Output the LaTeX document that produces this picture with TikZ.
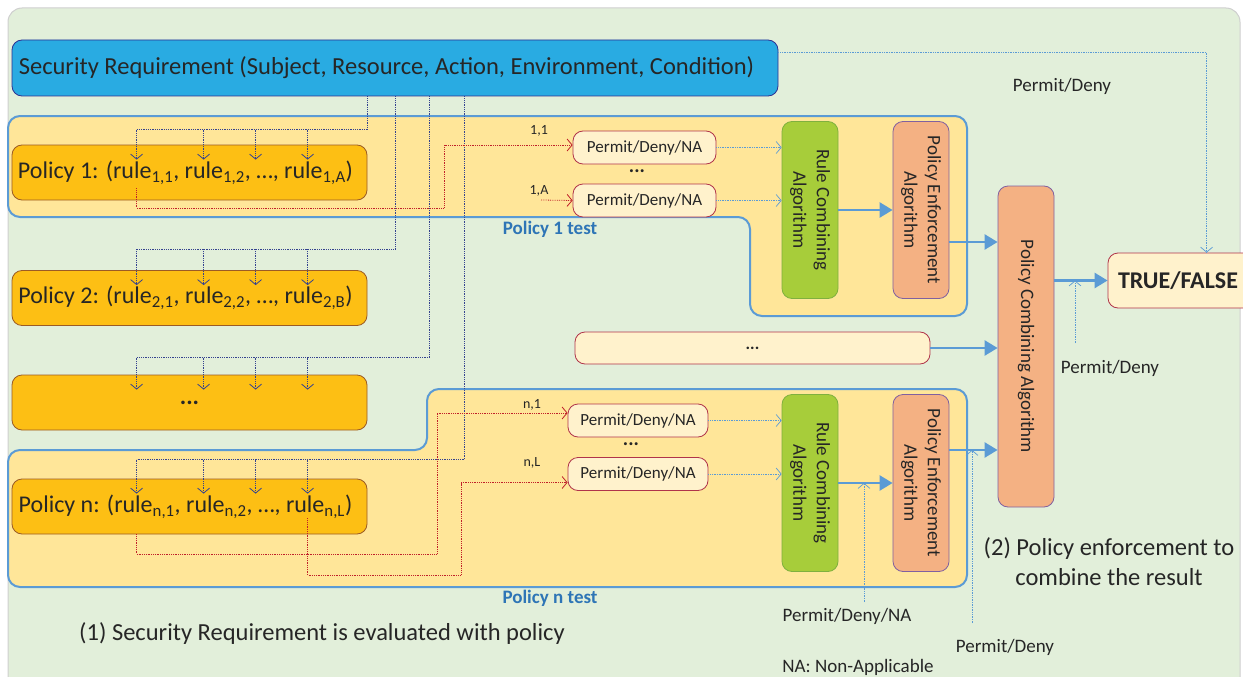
\documentclass[tikz,border=0pt]{standalone}
\usepackage{fontspec}
\setmainfont{Carlito}
\usetikzlibrary{calc}
\usetikzlibrary{arrows.meta}

\definecolor{bggreen}{HTML}{E2EFDA}
\definecolor{bgedge}{HTML}{CFCFCF}
\definecolor{reqblue}{HTML}{29ABE2}
\definecolor{reqedge}{HTML}{2E3192}
\definecolor{testfill}{HTML}{FFE699}
\definecolor{testedge}{HTML}{5B9BD5}
\definecolor{testtext}{HTML}{2E75B6}
\definecolor{polfill}{HTML}{FDBF14}
\definecolor{poledge}{HTML}{9B5B25}
\definecolor{resfill}{HTML}{FFF2CC}
\definecolor{resedge}{HTML}{B0344A}
\definecolor{rcafill}{HTML}{A7CD3A}
\definecolor{rcaedge}{HTML}{7FB03F}
\definecolor{peafill}{HTML}{F4B183}
\definecolor{peaedge}{HTML}{8060A0}
\definecolor{flowblue}{HTML}{5B9BD5}
\definecolor{lineblue}{HTML}{34428F}
\definecolor{linered}{HTML}{C0202A}
\definecolor{txtgrey}{HTML}{262626}

\begin{document}
\begin{tikzpicture} [
    x = 1pt, y = -1pt,
    every node/.style = {text = txtgrey},
    box/.style = {draw, rounded corners = 10pt, line width = 0.8pt, inner sep = 0pt},
    reqbox/.style = {box, fill = reqblue, draw = reqedge, minimum width = 766pt, minimum height = 56pt, font = \fontsize{24.5}{28}\selectfont},
    polbox/.style = {box, fill = polfill, draw = poledge, minimum width = 355pt, minimum height = 55pt, font = \fontsize{24}{28}\selectfont},
    resbox/.style = {box, fill = resfill, draw = resedge, minimum width = 143pt, minimum height = 33pt, font = \fontsize{17}{20}\selectfont},
    rcabox/.style = {box, fill = rcafill, draw = rcaedge, rotate = -90, minimum width = 177pt, minimum height = 56pt, align = center, font = \fontsize{19}{23.5}\selectfont},
    peabox/.style = {rcabox, fill = peafill, draw = peaedge},
    testregion/.style = {fill = testfill, draw = testedge, line width = 2pt, rounded corners = 12pt},
    testlabel/.style = {text = testtext, font = \fontsize{19}{22}\selectfont\bfseries},
    lbl/.style = {font = \fontsize{19}{22}\selectfont},
    idx/.style = {font = \fontsize{14}{16}\selectfont},
    steptext/.style = {font = \fontsize{24.5}{30}\selectfont},
    dots/.style = {font = \fontsize{20}{20}\selectfont\bfseries},
    bigarrow/.style = {draw = flowblue, line width = 2.5pt, -{Triangle[length = 13pt, width = 15pt]}},
    resarrow/.style = {draw = flowblue, densely dotted, line width = 0.7pt, -{Straight Barb[length = 5pt, width = 12pt]}},
    reqline/.style = {draw = lineblue, densely dotted, line width = 0.8pt},
    reqarrow/.style = {reqline, -{Straight Barb[length = 5pt, width = 12pt]}},
    rulearrow/.style = {draw = linered, densely dotted, line width = 0.8pt, -{Straight Barb[length = 5pt, width = 12pt]}}
]

% page and background
\path [use as bounding box, fill = white] (0,0) rectangle (1243,677);
\draw [fill = bggreen, draw = bgedge, line width = 1pt, rounded corners = 14pt] (8,8) rectangle (1240,700);

% test regions
\draw [testregion] (8,116) -- (967,116) -- (967,316) -- (750,316) -- (750,217) -- (8,217) -- cycle;
\draw [testregion] (427,389) -- (967,389) -- (967,587) -- (8,587) -- (8,450) -- (427,450) -- cycle;

% security requirement and policies
\node (secreq) at (395,68) [reqbox] {Security Requirement (Subject, Resource, Action, Environment, Condition)\hspace{17pt}\mbox{}};
\node (pol1) at (189.5,172.5) [polbox] {Policy 1: (rule\textsubscript{1,1}, rule\textsubscript{1,2}, …, rule\textsubscript{1,A})\hspace{8pt}\mbox{}};
\node (pol2) at (189.5,298) [polbox] {Policy 2: (rule\textsubscript{2,1}, rule\textsubscript{2,2}, …, rule\textsubscript{2,B})\hspace{8pt}\mbox{}};
\node (pold) at (189.5,402.5) [polbox] {\textbf{...}};
\node (poln) at (189.5,506.5) [polbox] {Policy n: (rule\textsubscript{n,1}, rule\textsubscript{n,2}, …, rule\textsubscript{n,L})\hspace{8pt}\mbox{}};

% rule results
\node (p11) at (644.5,147.5) [resbox] {Permit/Deny/NA};
\node (d1) at (637,171) [dots] {...};
\node (p1A) at (644.5,200.5) [resbox] {Permit/Deny/NA};
\node (pn1) at (638,420.5) [resbox, minimum width = 140pt] {Permit/Deny/NA};
\node (dn) at (631,444) [dots] {...};
\node (pnL) at (638,474) [resbox, minimum width = 140pt] {Permit/Deny/NA};
\node (dotsbox) at (752.5,348) [resbox, minimum width = 355pt, minimum height = 32pt] {\textbf{...}};

% algorithms
\node (rca1) at (810,210) [rcabox] {Rule Combining\\Algorithm};
\node (pea1) at (921,210) [peabox] {Policy Enforcement\\Algorithm};
\node (rcan) at (810,483) [rcabox] {Rule Combining\\Algorithm};
\node (pean) at (921,483) [peabox] {Policy Enforcement\\Algorithm};
\node (pca) at (1026,346.5) [peabox, minimum width = 321pt] {Policy Combining Algorithm};
\node (tf) at (1193,280.5) [box, fill = resfill, draw = resedge, minimum width = 170pt, minimum height = 55pt, font = \fontsize{24}{28}\selectfont\bfseries] {TRUE/FALSE\hspace{30pt}\mbox{}};

% labels
\node (t1lab) at (550,229) [testlabel] {Policy 1 test};
\node (tnlab) at (550,598) [testlabel] {Policy n test};
\node (l11) at (539,131) [idx] {1,1};
\node (l1A) at (539,191) [idx] {1,A};
\node (ln1) at (532,405) [idx] {n,1};
\node (lnL) at (532,463) [idx] {n,L};
\node (pdtop) at (1062,86) [lbl] {Permit/Deny};
\node (pdtf) at (1110,368) [lbl] {Permit/Deny};
\node (pdrn) at (847,616) [lbl] {Permit/Deny/NA};
\node (pdpn) at (1005,647) [lbl] {Permit/Deny};
\node (nanote) at (858,667) [lbl] {NA: Non-Applicable};
\node (step1) at (322,634) [steptext] {(1) Security Requirement is evaluated with policy};
\node (step2) at (1109,562) [steptext, align = center] {(2) Policy enforcement to\\combine the result};

% requirement fed to every rule
\foreach \pol/\xs/\up in {pol1/368/15, pol2/396/21, pold/430/17, poln/465/19} {
    \foreach \dx [count = \i] in {125,192,244,296} {
        \coordinate (\pol-in\i) at ($(\pol.north west)+(\dx,-\up)$);
        \coordinate (\pol-tip\i) at ($(\pol.north west)+(\dx,15)$);
        \draw [reqarrow] (\pol-in\i) -- (\pol-tip\i);
    }
    \coordinate (\pol-src) at ($(secreq.south west)+(\xs-12,0)$);
    \draw [reqline] (\pol-src) |- (\pol-in1);
}

% rule evaluations
\coordinate (r11) at ($(pol1.south west)+(125,-12)$);
\coordinate (j11) at (444,208);
\draw [rulearrow] (r11) |- (j11) |- ([yshift=2.5pt]p11.west);
\coordinate (r1A) at (541,200);
\draw [rulearrow] (r1A) -- (p1A.west);
\coordinate (rn1) at ($(poln.south west)+(125,0)$);
\coordinate (jn1) at (437,554);
\draw [rulearrow] (rn1) |- (jn1) |- ([yshift=7.5pt]pn1.west);
\coordinate (rnL) at ($(poln.south west)+(296,-16)$);
\coordinate (jnL) at (461,575);
\draw [rulearrow] (rnL) |- (jnL) |- ([yshift=-8.5pt]pnL.west);

% results to combining algorithms
\draw [resarrow] (p11.east) -- (rca1.south |- p11.east);
\draw [resarrow] (p1A.east) -- (rca1.south |- p1A.east);
\draw [resarrow] (pn1.east) -- (rcan.south |- pn1.east);
\draw [resarrow] (pnL.east) -- (rcan.south |- pnL.east);

% main flow
\draw [bigarrow] (rca1.north) -- (pea1.south);
\draw [bigarrow] (rcan.north) -- (pean.south);
\coordinate (pe1out) at ($(pea1.north)+(0,32)$);
\draw [bigarrow] (pe1out) -- (pe1out -| pca.south);
\coordinate (penout) at ($(pean.north)+(0,-33)$);
\draw [bigarrow] (penout) -- (penout -| pca.south);
\draw [bigarrow] (dotsbox.east) -- (dotsbox.east -| pca.south);
\draw [bigarrow] (pca.north |- tf.west) -- (tf.west);

% permit/deny inputs
\coordinate (srout) at ($(secreq.north east)+(0,13)$);
\coordinate (tfin) at ($(tf.north west)+(99,0)$);
\draw [resarrow] (srout) -| (tfin);
\coordinate (pdsrc) at (1075,343);
\draw [resarrow] (pdsrc) -- (pdsrc |- tf.west);
\coordinate (rnsrc) at (864,602);
\draw [resarrow] (rnsrc) -- (rnsrc |- pean.south);
\coordinate (pnsrc) at (972,623);
\draw [resarrow] (pnsrc) -- (pnsrc |- penout);

\end{tikzpicture}
\end{document}
